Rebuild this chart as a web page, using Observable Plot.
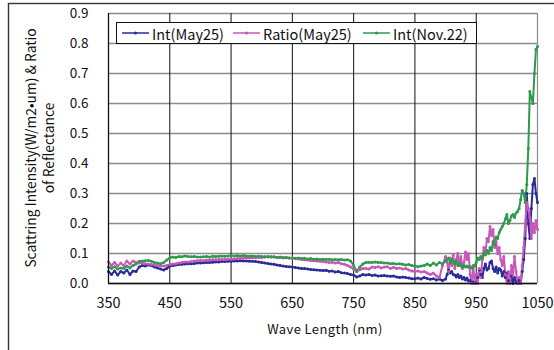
<!DOCTYPE html>
<html>
<head>
<meta charset="utf-8">
<script src="https://cdn.jsdelivr.net/npm/d3@7"></script>
<script src="https://cdn.jsdelivr.net/npm/@observablehq/plot@0.6"></script>
<style>
  html, body { margin: 0; padding: 0; background: #fff; }
  #chart svg { display: block; }
  #chart svg [aria-label="x-axis tick label"] text { font-size: 14.5px; }
</style>
</head>
<body>
<div id="chart"></div>
<script>
// Wavelength sampling grid (nm): 5 nm steps up to 895, 2.5 nm steps from 900
const wavelengths = d3.range(350, 900, 5).concat(d3.range(900, 1051, 2.5));

// Scattering intensity, 25 May
const intMay25 = [
  0.04,0.03,0.042,0.028,0.04,0.035,0.045,0.03,0.042,0.04,0.055,
  0.06,0.058,0.062,0.06,0.055,0.052,0.048,0.045,0.05,0.058,
  0.06,0.062,0.063,0.064,0.065,0.066,0.066,0.067,0.068,0.068,
  0.069,0.07,0.07,0.071,0.072,0.072,0.073,0.073,0.074,0.074,
  0.075,0.075,0.076,0.075,0.075,0.074,0.074,0.073,0.072,0.07,
  0.068,0.067,0.065,0.064,0.062,0.06,0.058,0.057,0.056,0.055,
  0.053,0.052,0.05,0.05,0.048,0.047,0.046,0.045,0.044,0.043,
  0.044,0.041,0.042,0.038,0.04,0.036,0.035,0.033,0.03,0.028,
  0.022,0.025,0.03,0.028,0.03,0.027,0.028,0.025,0.026,0.027,
  0.025,0.024,0.025,0.022,0.02,0.022,0.02,0.018,0.016,0.016,
  0.018,0.015,0.02,0.017,0.014,0.016,0.012,0.015,0.01,
  // 900 – 1050 nm
  0.015,0.03,0.045,0.035,0.04,0.03,0.028,0.022,0.03,0.02,
  0.025,0.015,0.02,0.012,0.018,0.008,0.01,0.003,0.005,0.0,
  0.002,0.02,0.045,0.03,0.02,0.05,0.065,0.045,0.05,0.07,
  0.075,0.05,0.04,0.055,0.035,0.05,0.045,0.025,0.04,0.02,
  0.035,0.01,0.0,0.025,0.0,0.02,0.005,0.0,0.01,0.0,
  0.04,0.08,0.15,0.3,0.2,0.15,0.25,0.33,0.35,0.3,
  0.27
];

// Ratio of reflectance, 25 May
const ratioMay25 = [
  0.072,0.06,0.07,0.058,0.068,0.06,0.075,0.065,0.075,0.07,0.068,
  0.068,0.066,0.065,0.063,0.062,0.06,0.058,0.058,0.06,0.063,
  0.065,0.066,0.068,0.07,0.072,0.072,0.073,0.075,0.076,0.077,
  0.077,0.078,0.078,0.079,0.079,0.08,0.08,0.08,0.081,0.081,
  0.082,0.083,0.083,0.084,0.085,0.085,0.086,0.086,0.087,0.087,
  0.088,0.088,0.089,0.088,0.087,0.087,0.086,0.086,0.085,0.085,
  0.083,0.082,0.08,0.079,0.078,0.077,0.076,0.075,0.074,0.073,
  0.072,0.07,0.071,0.068,0.07,0.066,0.064,0.06,0.055,0.048,
  0.04,0.046,0.05,0.05,0.048,0.055,0.053,0.056,0.052,0.055,
  0.056,0.05,0.054,0.05,0.052,0.048,0.05,0.045,0.042,0.04,
  0.042,0.038,0.04,0.035,0.03,0.035,0.025,0.02,0.06,
  // 900 – 1050 nm
  0.09,0.07,0.04,0.085,0.06,0.095,0.05,0.08,0.1,0.06,
  0.09,0.05,0.07,0.105,0.08,0.1,0.03,0.0,0.06,0.0,
  0.03,0.0,0.05,0.02,0.08,0.12,0.1,0.15,0.14,0.19,
  0.16,0.18,0.12,0.14,0.1,0.12,0.08,0.06,0.09,0.03,
  0.0,0.04,0.0,0.06,0.03,0.09,0.04,0.0,0.02,0.0,
  0.06,0.12,0.2,0.27,0.25,0.22,0.15,0.2,0.17,0.21,
  0.18
];

// Scattering intensity, 22 Nov.
const intNov22 = [
  0.055,0.05,0.056,0.048,0.052,0.05,0.058,0.052,0.06,0.065,0.074,
  0.075,0.076,0.077,0.074,0.07,0.068,0.066,0.07,0.078,0.086,
  0.088,0.087,0.09,0.089,0.092,0.09,0.089,0.09,0.088,0.088,
  0.089,0.09,0.088,0.091,0.09,0.091,0.092,0.091,0.092,0.093,
  0.092,0.093,0.092,0.093,0.092,0.091,0.092,0.09,0.091,0.09,
  0.089,0.09,0.088,0.089,0.087,0.088,0.086,0.087,0.085,0.085,
  0.084,0.085,0.083,0.084,0.082,0.083,0.081,0.082,0.08,0.081,
  0.08,0.081,0.079,0.08,0.079,0.08,0.078,0.079,0.075,0.06,
  0.04,0.055,0.065,0.07,0.071,0.07,0.072,0.07,0.07,0.068,
  0.068,0.066,0.067,0.065,0.066,0.064,0.062,0.063,0.06,0.058,
  0.056,0.058,0.06,0.065,0.06,0.068,0.062,0.07,0.065,
  // 900 – 1050 nm
  0.075,0.08,0.085,0.07,0.08,0.075,0.065,0.075,0.06,0.068,
  0.058,0.055,0.06,0.055,0.058,0.054,0.056,0.052,0.055,0.06,
  0.07,0.085,0.08,0.09,0.085,0.1,0.095,0.11,0.1,0.12,
  0.11,0.14,0.13,0.155,0.15,0.17,0.18,0.19,0.2,0.215,
  0.23,0.2,0.21,0.225,0.23,0.22,0.235,0.24,0.25,0.28,
  0.31,0.3,0.27,0.33,0.45,0.64,0.62,0.6,0.7,0.78,
  0.79
];

const seriesNames = ["Int(May25)", "Ratio(May25)", "Int(Nov.22)"];
const seriesColors = ["#2b2b98", "#c957b9", "#2e9a4c"];
const xTicks = [350, 450, 550, 650, 750, 850, 950, 1050];
const yTicks = [0, 0.1, 0.2, 0.3, 0.4, 0.5, 0.6, 0.7, 0.8, 0.9];
const yTitle = ["Scattring Intensity(W/m2\u2022um) & Ratio", "of Reflectance"];
const xTitle = "Wave Length (nm)";

const seriesValues = [intMay25, ratioMay25, intNov22];
const rows = seriesValues.flatMap((vals, s) =>
  vals.map((v, i) => ({ series: seriesNames[s], nm: wavelengths[i], value: v }))
);

const font = "'Noto Sans CJK JP', 'Noto Sans', sans-serif";

const chart = Plot.plot({
  width: 554,
  height: 350,
  marginLeft: 108,
  marginRight: 17,
  marginTop: 13,
  marginBottom: 67,
  style: { fontFamily: font, fontSize: "13.5px", color: "#111", background: "#fff" },
  x: { domain: [350, 1050], ticks: xTicks, tickSize: 0, tickPadding: 14, tickFormat: d3.format("d"), label: null },
  y: { domain: [0, 0.9], ticks: yTicks, tickSize: 0, tickPadding: 20, tickFormat: d3.format(".1f"), label: null },
  color: { domain: seriesNames, range: seriesColors },
  marks: [
    Plot.ruleY(yTicks, { stroke: "#8c8c8c", strokeWidth: 1.4 }),
    Plot.ruleX(xTicks.slice(1, -1), { stroke: "#111", strokeWidth: 1 }),
    Plot.ruleX([1050], { stroke: "#8c8c8c", strokeWidth: 1.2 }),
    Plot.line(rows, { x: "nm", y: "value", z: "series", stroke: "series", strokeWidth: 2 }),
    Plot.dot(rows, { x: "nm", y: "value", fill: "series", r: 1.5 }),
    Plot.ruleX([350], { stroke: "#111", strokeWidth: 1.3 }),
    Plot.ruleY([0], { stroke: "#111", strokeWidth: 1.3 })
  ]
});

const svg = d3.select(chart);

// outer chart frame
svg.append("rect")
  .attr("x", 8.5).attr("y", 3.5).attr("width", 620).attr("height", 420)
  .attr("fill", "none").attr("stroke", "#333").attr("stroke-width", 1.4);

// y-axis title, two rotated lines
yTitle.forEach((t, i) => {
  svg.append("text")
    .attr("transform", `translate(${30 + i * 18},148) rotate(-90)`)
    .attr("text-anchor", "middle")
    .attr("dominant-baseline", "central")
    .attr("font-family", font).attr("font-size", 13.8).attr("fill", "#111")
    .text(t);
});

// x-axis title
svg.append("text")
  .attr("x", 325).attr("y", 328)
  .attr("text-anchor", "middle").attr("dominant-baseline", "central")
  .attr("font-family", font).attr("font-size", 13).attr("fill", "#111")
  .attr("letter-spacing", 0.4)
  .text(xTitle);

// legend box
const lg = svg.append("g");
lg.append("rect")
  .attr("x", 116.5).attr("y", 22.5).attr("width", 360).attr("height", 21)
  .attr("fill", "#fff").attr("stroke", "#111").attr("stroke-width", 1);
const legendX = [122, 233, 363];
seriesNames.forEach((name, i) => {
  const x0 = legendX[i];
  lg.append("line")
    .attr("x1", x0).attr("x2", x0 + 27).attr("y1", 33).attr("y2", 33)
    .attr("stroke", seriesColors[i]).attr("stroke-width", 1.5);
  lg.append("circle")
    .attr("cx", x0 + 13.5).attr("cy", 33).attr("r", 1.6)
    .attr("fill", seriesColors[i]);
  lg.append("text")
    .attr("x", x0 + 30).attr("y", 33)
    .attr("text-anchor", "start")
    .attr("dominant-baseline", "central")
    .attr("font-family", font).attr("font-size", 14.5).attr("fill", "#111")
    .text(name);
});

document.getElementById("chart").appendChild(chart);
</script>
</body>
</html>
